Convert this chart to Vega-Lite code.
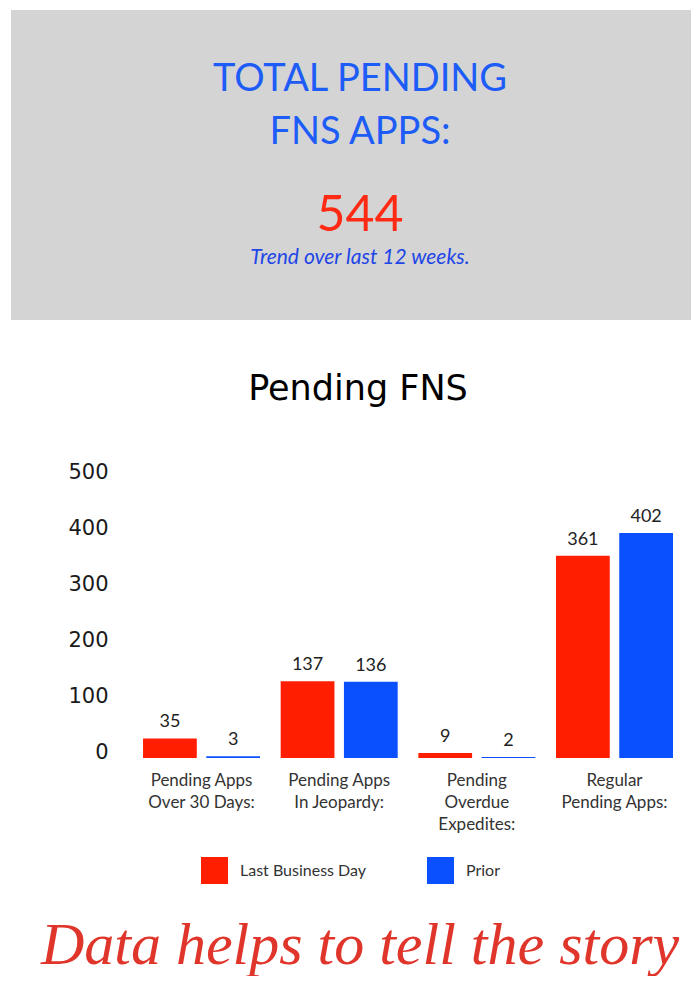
{
  "$schema": "https://vega.github.io/schema/vega-lite/v6.json",
  "background": "white",
  "padding": {"left": 11, "top": 10, "right": 0, "bottom": 0},
  "spacing": 52,
  "title": {"text": "Data helps to tell the story", "orient": "bottom", "anchor": "middle", "font": "Liberation Serif", "fontStyle": "italic", "fontWeight": "normal", "fontSize": 60, "color": "#e0352b", "offset": 33, "dx": 9},
  "config": {"view": {"stroke": null}, "legend": {"layout": {"bottom": {"anchor": "middle"}}}},
  "vconcat": [
    {
      "width": 680,
      "height": 310,
      "view": {"fill": "#d4d4d4", "stroke": null},
      "data": {"values": [
        {"row": 1, "text": "TOTAL PENDING"},
        {"row": 2, "text": "FNS APPS:"},
        {"row": 3, "text": "544"},
        {"row": 4, "text": "Trend over last 12 weeks."}
      ]},
      "encoding": {
        "y": {"field": "row", "type": "ordinal", "axis": null, "scale": {"type": "point", "padding": 1.1}},
        "text": {"field": "text"}
      },
      "layer": [
        {"transform": [{"filter": "datum.row == 1"}], "mark": {"type": "text", "font": "Lato", "fontSize": 38, "color": "#1d5cf7", "dx": 9, "dy": 8}},
        {"transform": [{"filter": "datum.row == 2"}], "mark": {"type": "text", "font": "Lato", "fontSize": 38, "color": "#1d5cf7", "dx": 9, "dy": -1}},
        {"transform": [{"filter": "datum.row == 3"}], "mark": {"type": "text", "font": "Lato", "fontSize": 50, "color": "#ff2a14", "dx": 9, "dy": 20}},
        {"transform": [{"filter": "datum.row == 4"}], "mark": {"type": "text", "font": "Lato", "fontSize": 21, "fontStyle": "italic", "color": "#1e46e6", "dx": 9, "dy": 0}}
      ]
    },
    {
      "width": 680,
      "height": 280,
      "title": {"text": "Pending FNS", "font": "DejaVu Sans", "fontSize": 35, "fontWeight": "normal", "color": "#000000", "anchor": "middle", "offset": 54, "dx": 7},
      "data": {"values": [
        {"category": "Pending Apps Over 30 Days:", "series": "Last Business Day", "count": 35},
        {"category": "Pending Apps Over 30 Days:", "series": "Prior", "count": 3},
        {"category": "Pending Apps In Jeopardy:", "series": "Last Business Day", "count": 137},
        {"category": "Pending Apps In Jeopardy:", "series": "Prior", "count": 136},
        {"category": "Pending Overdue Expedites:", "series": "Last Business Day", "count": 9},
        {"category": "Pending Overdue Expedites:", "series": "Prior", "count": 2},
        {"category": "Regular Pending Apps:", "series": "Last Business Day", "count": 361},
        {"category": "Regular Pending Apps:", "series": "Prior", "count": 402}
      ]},
      "encoding": {
        "x": {
          "field": "category", "type": "nominal",
          "sort": ["Pending Apps Over 30 Days:", "Pending Apps In Jeopardy:", "Pending Overdue Expedites:", "Regular Pending Apps:"],
          "scale": {"paddingInner": 0.15, "paddingOuter": 0.545, "align": 0.88},
          "axis": {
            "title": null, "domain": false, "ticks": false, "labelAngle": 0,
            "labelFont": "Lato", "labelFontSize": 17, "labelColor": "#333333",
            "labelPadding": 14, "labelLineHeight": 22, "labelLimit": 0,
            "labelExpr": "datum.label == 'Pending Apps Over 30 Days:' ? ['Pending Apps', 'Over 30 Days:'] : datum.label == 'Pending Apps In Jeopardy:' ? ['Pending Apps', 'In Jeopardy:'] : datum.label == 'Pending Overdue Expedites:' ? ['Pending', 'Overdue', 'Expedites:'] : ['Regular', 'Pending Apps:']"
          }
        },
        "xOffset": {"field": "series", "type": "nominal", "sort": ["Last Business Day", "Prior"], "scale": {"paddingInner": 0.15}},
        "y": {
          "field": "count", "type": "quantitative",
          "scale": {"domain": [0, 500]},
          "axis": {
            "title": null, "values": [0, 100, 200, 300, 400, 500], "grid": false, "domain": false, "ticks": false,
            "labelPadding": 0, "offset": -97, "labelFont": "DejaVu Sans", "labelFontSize": 21, "labelColor": "#1a1a1a", "labelOffset": -6
          }
        }
      },
      "layer": [
        {
          "mark": {"type": "bar"},
          "encoding": {
            "color": {
              "field": "series", "type": "nominal",
              "scale": {"domain": ["Last Business Day", "Prior"], "range": ["#ff1e00", "#0b50ff"]},
              "legend": {
                "orient": "bottom", "direction": "horizontal", "title": null,
                "symbolType": "square", "symbolSize": 729, "symbolStrokeWidth": 0, "symbolOpacity": 1,
                "labelFont": "Lato", "labelFontSize": 16, "labelColor": "#333333",
                "labelOffset": 12, "columnPadding": 60, "offset": 25
              }
            }
          }
        },
        {
          "mark": {"type": "text", "baseline": "bottom", "dy": -7, "font": "Lato", "fontSize": 18, "color": "#222222"},
          "encoding": {"text": {"field": "count", "type": "quantitative"}}
        }
      ]
    }
  ]
}
